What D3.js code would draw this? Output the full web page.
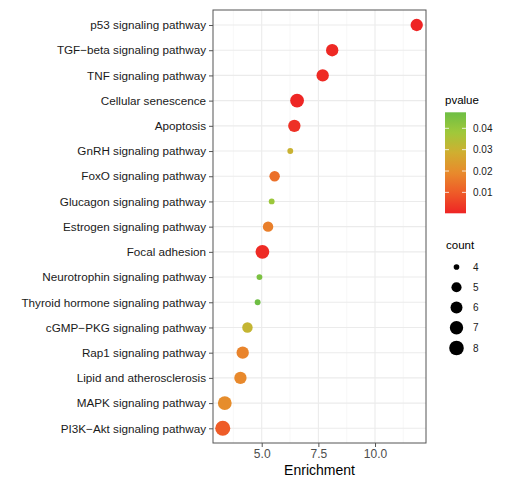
<!DOCTYPE html>
<html><head><meta charset="utf-8">
<script src="https://cdn.jsdelivr.net/npm/d3@7/dist/d3.min.js"></script>
<style>body{margin:0;background:#fff}svg{display:block}text{font-family:"Liberation Sans",Arial,sans-serif}</style>
</head><body><svg id="c" width="507" height="488"></svg>
<script>
const pathways = ["p53 signaling pathway","TGF\u2212beta signaling pathway","TNF signaling pathway","Cellular senescence","Apoptosis","GnRH signaling pathway","FoxO signaling pathway","Glucagon signaling pathway","Estrogen signaling pathway","Focal adhesion","Neurotrophin signaling pathway","Thyroid hormone signaling pathway","cGMP\u2212PKG signaling pathway","Rap1 signaling pathway","Lipid and atherosclerosis","MAPK signaling pathway","PI3K\u2212Akt signaling pathway"];
const enrichment = [11.84,8.11,7.69,6.56,6.44,6.26,5.57,5.44,5.28,5.03,4.90,4.82,4.37,4.16,4.06,3.37,3.28];
const counts = [6,6,6,7,6,4,5,4,5,7,4,4,5,6,6,7,8];
const pvalues = [0.0002,0.0010,0.0012,0.0006,0.0025,0.030,0.014,0.039,0.017,0.0015,0.045,0.0475,0.031,0.018,0.019,0.020,0.010];
const xTicks = [5,7.5,10];
const pTicks = [0.01,0.02,0.03,0.04];
const countBreaks = [4,5,6,7,8];
const rampColors = ["#EE2424","#EE5A28","#E88A2C","#D0AE30","#A0C83A","#6EBE44"];

const svg = d3.select("#c");
const L=213,R=426,T=10,B=443;
const x = d3.scaleLinear().domain([2.85,12.25]).range([L,R]);
const y = d3.scalePoint().domain(pathways).range([25,428.3]);
const sizeScale = c => 1 + 5*Math.sqrt((c-4)/4);
const r = c => 0.92*sizeScale(c) + 2.0;
const pExt = d3.extent(pvalues);
const t2c = d3.scaleLinear().domain(rampColors.map((c,i)=>i/(rampColors.length-1))).range(rampColors).interpolate(d3.interpolateRgb);
const col = v => t2c((v-pExt[0])/(pExt[1]-pExt[0]));

svg.append("rect").attr("x",L).attr("y",T).attr("width",R-L).attr("height",B-T).attr("fill","#fff");
const minor = [3.75,6.25,8.75,11.25];
svg.append("g").selectAll("line").data(minor).join("line")
  .attr("x1",d=>x(d)).attr("x2",d=>x(d)).attr("y1",T).attr("y2",B).attr("stroke","#f3f3f3").attr("stroke-width",0.6);
svg.append("g").selectAll("line").data(xTicks).join("line")
  .attr("x1",d=>x(d)).attr("x2",d=>x(d)).attr("y1",T).attr("y2",B).attr("stroke","#ebebeb").attr("stroke-width",1.1);
svg.append("g").selectAll("line").data(pathways).join("line")
  .attr("x1",L).attr("x2",R).attr("y1",d=>y(d)).attr("y2",d=>y(d)).attr("stroke","#ebebeb").attr("stroke-width",1.1);

const data = pathways.map((p,i)=>({p,e:enrichment[i],c:counts[i],pv:pvalues[i]}));
svg.append("g").selectAll("circle").data(data).join("circle")
  .attr("cx",d=>x(d.e)).attr("cy",d=>y(d.p)).attr("r",d=>r(d.c)).attr("fill",d=>col(d.pv));

svg.append("rect").attr("x",L).attr("y",T).attr("width",R-L).attr("height",B-T).attr("fill","none").attr("stroke","#555").attr("stroke-width",1);

// axes
const xa = svg.append("g").attr("transform",`translate(0,${B})`)
  .call(d3.axisBottom(x).tickValues(xTicks).tickFormat(d3.format(".1f")).tickSizeOuter(0).tickSize(4).tickPadding(2));
xa.select(".domain").remove();
xa.selectAll("line").attr("stroke","#555");
xa.selectAll("text").attr("fill","#4d4d4d").style("font-size","12px");
const ya = svg.append("g").attr("transform",`translate(${L},0)`)
  .call(d3.axisLeft(y).tickSizeOuter(0).tickSize(4).tickPadding(3));
ya.select(".domain").remove();
ya.selectAll("line").attr("stroke","#555");
ya.selectAll("text").attr("fill","#1a1a1a").style("font-size","11.7px");

svg.append("text").attr("x",(L+R)/2).attr("y",475).attr("text-anchor","middle").style("font-size","14px").attr("fill","#000").text("Enrichment");

// colorbar legend
const cbX=445,cbW=21,cbTop=112.3,cbBot=213.3;
svg.append("text").attr("x",445).attr("y",104).style("font-size","11.5px").text("pvalue");
const defs = svg.append("defs");
const grad = defs.append("linearGradient").attr("id","g").attr("x1",0).attr("y1",1).attr("x2",0).attr("y2",0);
d3.range(0,1.0001,0.05).forEach(t=>grad.append("stop").attr("offset",t).attr("stop-color",col(pExt[0]+t*(pExt[1]-pExt[0]))));
svg.append("rect").attr("x",cbX).attr("y",cbTop).attr("width",cbW).attr("height",cbBot-cbTop).attr("fill","url(#g)");
const py = d3.scaleLinear().domain(pExt).range([cbBot,cbTop]);
const pg = svg.append("g");
pTicks.forEach(t=>{
  pg.append("line").attr("x1",cbX).attr("x2",cbX+4).attr("y1",py(t)).attr("y2",py(t)).attr("stroke","#fff").attr("stroke-width",0.8);
  pg.append("line").attr("x1",cbX+cbW-4).attr("x2",cbX+cbW).attr("y1",py(t)).attr("y2",py(t)).attr("stroke","#fff").attr("stroke-width",0.8);
  pg.append("text").attr("x",473).attr("y",py(t)).attr("dy","0.35em").style("font-size","10px").attr("fill","#1a1a1a").text(d3.format(".2f")(t));
});

// size legend
svg.append("text").attr("x",446).attr("y",249).style("font-size","11.5px").text("count");
const sy = d3.scalePoint().domain(countBreaks).range([267,348]);
const sg = svg.append("g");
countBreaks.forEach(c=>{
  sg.append("circle").attr("cx",456.5).attr("cy",sy(c)).attr("r",r(c)*0.97).attr("fill","#000");
  sg.append("text").attr("x",473).attr("y",sy(c)).attr("dy","0.35em").style("font-size","10px").attr("fill","#1a1a1a").text(c);
});
</script></body></html>
